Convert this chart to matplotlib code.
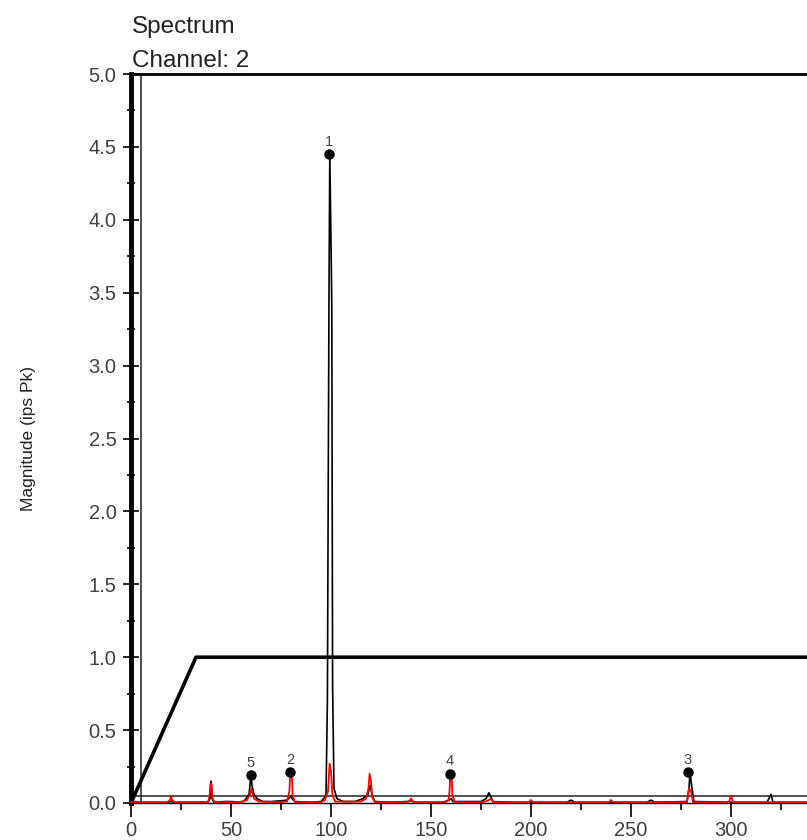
import matplotlib
matplotlib.use("Agg")
import matplotlib.pyplot as plt
from matplotlib.ticker import MultipleLocator

# ---- data ----
black_freq = [0, 2, 5, 18, 20, 22, 38.5, 39.5, 40, 40.5, 41.5, 47, 50, 55, 57, 59, 60, 60.5, 61.5, 63, 66,
              70, 75, 78, 79.5, 80, 80.5, 82, 90, 95, 97.5, 98.2, 99, 99.4, 100.1, 100.4, 100.8, 101.5, 103,
              106, 112, 116, 118.5, 119.5, 120, 120.5, 122, 130, 138, 140, 142, 156, 159, 160, 161, 175,
              177.5, 179, 180, 181, 190, 218, 220, 222, 258, 260, 262, 278, 279, 279.5, 280.5, 281.5, 300,
              318, 320, 321, 338]
black_mag = [0.0, 0.01, 0.005, 0.005, 0.01, 0.005, 0.005, 0.03, 0.15, 0.03, 0.005, 0.01, 0.01, 0.005, 0.02,
             0.06, 0.19, 0.12, 0.06, 0.03, 0.01, 0.01, 0.015, 0.02, 0.04, 0.05, 0.03, 0.01, 0.005, 0.01,
             0.05, 0.7, 3.5, 4.45, 3.75, 3.4, 0.8, 0.1, 0.03, 0.01, 0.01, 0.03, 0.06, 0.12, 0.1, 0.05,
             0.01, 0.005, 0.01, 0.015, 0.005, 0.005, 0.02, 0.03, 0.01, 0.01, 0.03, 0.07, 0.04, 0.01,
             0.005, 0.005, 0.02, 0.005, 0.005, 0.02, 0.005, 0.01, 0.1, 0.21, 0.1, 0.01, 0.005, 0.005,
             0.06, 0.005, 0.005]

red_freq = [0, 18, 19.5, 20, 20.5, 22, 38.5, 39.3, 39.7, 40.3, 40.7, 42, 55, 58, 59.5, 60, 60.5, 61.5, 64,
            74, 78, 79.2, 79.6, 80.4, 80.8, 82, 95, 97, 98.5, 99.3, 100, 100.7, 102, 115, 117.5, 118.7,
            119.3, 120, 120.6, 122, 137, 139, 140, 141, 143, 157, 158.8, 159.3, 159.7, 160.3, 160.7, 162,
            176, 179, 180, 181, 199, 200, 201, 239, 240, 241, 278, 279, 280, 281, 299, 300, 301, 338]
red_mag = [0.005, 0.005, 0.02, 0.05, 0.02, 0.005, 0.005, 0.05, 0.13, 0.13, 0.03, 0.005, 0.005, 0.02, 0.06,
           0.1, 0.08, 0.03, 0.01, 0.005, 0.01, 0.08, 0.21, 0.21, 0.05, 0.005, 0.005, 0.02, 0.08, 0.27,
           0.22, 0.06, 0.01, 0.01, 0.03, 0.1, 0.2, 0.15, 0.04, 0.005, 0.005, 0.01, 0.03, 0.01, 0.005,
           0.005, 0.02, 0.09, 0.2, 0.2, 0.05, 0.005, 0.005, 0.02, 0.03, 0.005, 0.005, 0.02, 0.005,
           0.005, 0.02, 0.005, 0.005, 0.1, 0.08, 0.005, 0.005, 0.05, 0.005, 0.005]

alarm_freq = [0, 32.5, 338]
alarm_mag = [0.0, 1.0, 1.0]
baseline_level = 0.05
cutoff_freq = 5

peak_freq = [99.0, 79.5, 278.5, 159.5, 60.0]
peak_mag = [4.45, 0.21, 0.21, 0.20, 0.19]
peak_labels = ["1", "2", "3", "4", "5"]

x_ticks = [0, 50, 100, 150, 200, 250, 300]
y_ticks = [0.0, 0.5, 1.0, 1.5, 2.0, 2.5, 3.0, 3.5, 4.0, 4.5, 5.0]

# ---- figure ----
W, H = 807, 840
fig = plt.figure(figsize=(W / 100, H / 100), dpi=100)
left, right, top, bottom = 131, 807, 74, 803
ax = fig.add_axes([left / W, 1 - bottom / H, (right - left) / W, (bottom - top) / H])
ax.set_xlim(0, 338)
ax.set_ylim(0, 5.0)

ax.plot(alarm_freq, alarm_mag, color="black", lw=2.6, solid_capstyle="butt", zorder=3)
ax.axhline(baseline_level, color="#222222", lw=1.1, zorder=2)
ax.axvline(cutoff_freq, color="#222222", lw=1.1, zorder=2)
ax.plot(black_freq, black_mag, color="black", lw=1.2, zorder=4)
ax.plot(red_freq, red_mag, color="#ff0000", lw=1.3, zorder=5, clip_on=False)
ax.plot(peak_freq, peak_mag, linestyle="none", marker="o", markersize=6.5, color="black", zorder=6)
for fx, fy, lab in zip(peak_freq, peak_mag, peak_labels):
    ax.annotate(lab, (fx, fy), xytext=(0, 4), textcoords="offset points", ha="center", va="bottom",
                fontsize=10.5, color="#4a4050", family="Liberation Sans", zorder=7)

ax.spines["right"].set_visible(False)
ax.spines["left"].set_linewidth(3.5)
ax.spines["top"].set_linewidth(2.0)
ax.spines["bottom"].set_linewidth(1.0)

tick_font = dict(family="Liberation Sans", size=14.5, color="#404040")
ax.set_xticks(x_ticks)
ax.set_xticklabels([str(v) for v in x_ticks], **tick_font)
ax.set_yticks(y_ticks)
ax.set_yticklabels([f"{v:.1f}" for v in y_ticks], **tick_font)
ax.xaxis.set_minor_locator(MultipleLocator(25))
ax.yaxis.set_minor_locator(MultipleLocator(0.25))
ax.tick_params(axis="y", which="major", direction="inout", length=11, width=1.2, pad=5)
ax.tick_params(axis="y", which="minor", direction="inout", length=6, width=1.2)
ax.tick_params(axis="x", which="major", direction="out", length=10, width=1.2, pad=3)
ax.tick_params(axis="x", which="minor", direction="out", length=5, width=1.2)

ax.set_ylabel("Magnitude (ips Pk)", family="Liberation Sans", fontsize=12.5, color="#222222", labelpad=38)

fig.text(132 / W, 1 - 33 / H, "Spectrum", family="Liberation Sans", fontsize=17.5, color="#222222",
         ha="left", va="baseline")
fig.text(132 / W, 1 - 67 / H, "Channel: 2", family="Liberation Sans", fontsize=17.5, color="#222222",
         ha="left", va="baseline")

fig.savefig("out.png", dpi=100)
